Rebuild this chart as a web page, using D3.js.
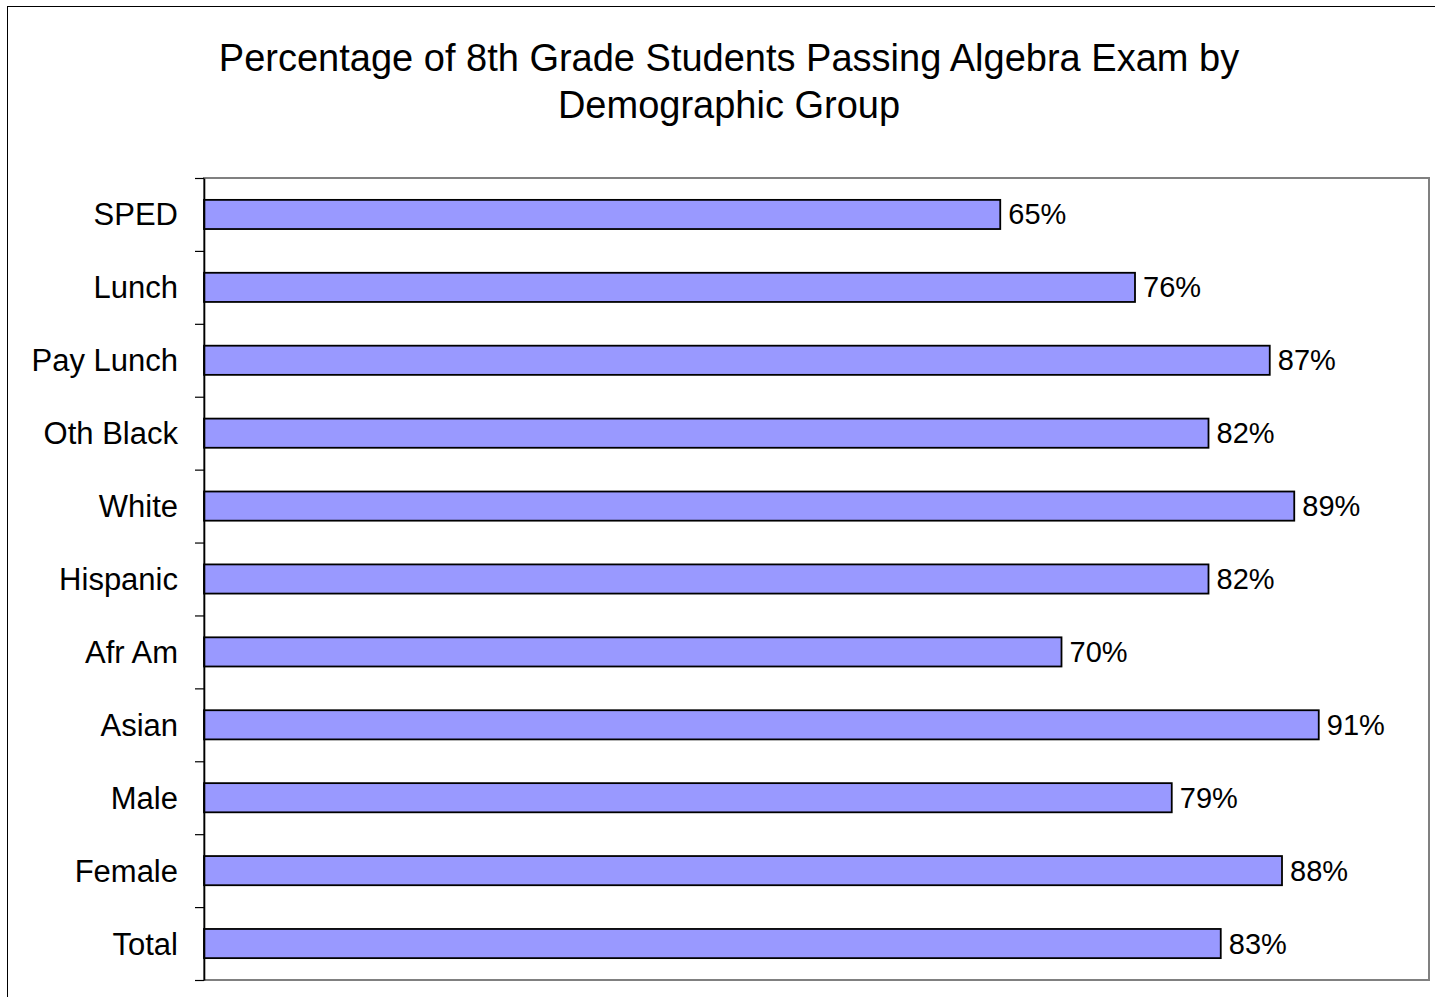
<!DOCTYPE html>
<html>
<head>
<meta charset="utf-8">
<script src="https://cdn.jsdelivr.net/npm/d3@7"></script>
<style>
  html, body { margin: 0; padding: 0; background: #fff; }
  svg { display: block; }
  text { font-family: "Liberation Sans", Arial, sans-serif; fill: #000; }
</style>
</head>
<body>
<svg id="chart" width="1435" height="997"></svg>
<script>
const titleLines = ["Percentage of 8th Grade Students Passing Algebra Exam by", "Demographic Group"];
const categories = ["SPED", "Lunch", "Pay Lunch", "Oth Black", "White", "Hispanic", "Afr Am", "Asian", "Male", "Female", "Total"];
const values = [0.65, 0.76, 0.87, 0.82, 0.89, 0.82, 0.70, 0.91, 0.79, 0.88, 0.83];

const data = categories.map((c, i) => ({ category: c, value: values[i] }));

const svg = d3.select("#chart");
const plot = { left: 204, right: 1429, top: 178, bottom: 980 };

// outer chart border
svg.append("rect")
  .attr("x", 7.5).attr("y", 6.5)
  .attr("width", 1460).attr("height", 1010)
  .attr("fill", "#fff").attr("stroke", "#000").attr("stroke-width", 1);

// title
svg.append("text")
  .attr("x", 729).attr("text-anchor", "middle")
  .attr("font-size", 38)
  .selectAll("tspan").data(titleLines).join("tspan")
  .attr("x", 729)
  .attr("y", (d, i) => 71 + i * 47)
  .text(d => d);

const x = d3.scaleLinear().domain([0, 1]).range([plot.left, plot.right]);
const y = d3.scaleBand().domain(categories).range([plot.top, plot.bottom])
  .paddingInner(0.6).paddingOuter(0.3);

// plot area border (gray)
svg.append("rect")
  .attr("x", plot.left).attr("y", plot.top)
  .attr("width", plot.right - plot.left).attr("height", plot.bottom - plot.top)
  .attr("fill", "#fff").attr("stroke", "#808080").attr("stroke-width", 2);

// bars
svg.append("g").selectAll("rect").data(data).join("rect")
  .attr("x", x(0))
  .attr("y", d => y(d.category))
  .attr("width", d => x(d.value) - x(0))
  .attr("height", y.bandwidth())
  .attr("fill", "#9999FF")
  .attr("stroke", "#000")
  .attr("stroke-width", 1.8);

// category axis with ticks at band boundaries
const tickScale = d3.scaleLinear().domain([0, categories.length]).range([plot.top, plot.bottom]);
const axis = d3.axisLeft(tickScale)
  .tickValues(d3.range(0, categories.length + 1))
  .tickFormat("")
  .tickSize(9)
  .tickSizeOuter(0);
const gAxis = svg.append("g").attr("transform", `translate(${plot.left},0)`).call(axis);
gAxis.select(".domain").attr("stroke", "#000").attr("stroke-width", 1.6);
gAxis.selectAll(".tick line").attr("stroke", "#000").attr("stroke-width", 1.2);

// category labels
svg.append("g").selectAll("text").data(data).join("text")
  .attr("x", 178)
  .attr("y", d => y(d.category) + y.bandwidth() / 2 + 11)
  .attr("text-anchor", "end")
  .attr("font-size", 31)
  .text(d => d.category);

// value labels
const fmt = d3.format(".0%");
svg.append("g").selectAll("text").data(data).join("text")
  .attr("x", d => x(d.value) + 8)
  .attr("y", d => y(d.category) + y.bandwidth() / 2 + 10)
  .attr("font-size", 29)
  .text(d => fmt(d.value));
</script>
</body>
</html>
